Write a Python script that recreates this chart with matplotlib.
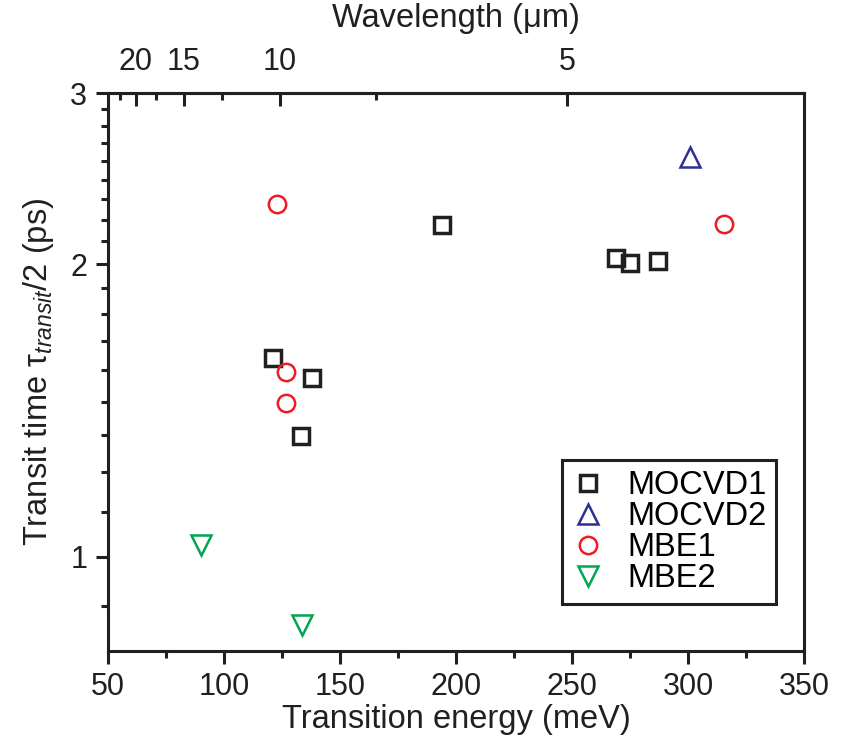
import numpy as np
import matplotlib.pyplot as plt
from matplotlib.ticker import FixedLocator, NullFormatter

plt.rcParams['font.family'] = ['Liberation Sans', 'DejaVu Sans']
plt.rcParams['mathtext.fontset'] = 'custom'
plt.rcParams['mathtext.rm'] = 'Liberation Sans'
plt.rcParams['mathtext.it'] = 'Liberation Sans:italic'

# data: transition energy (meV), transit time (ps)
mocvd1_e = [121.0, 138.1, 133.3, 194.1, 269.1, 275.0, 287.2]
mocvd1_t = [1.600, 1.526, 1.331, 2.195, 2.030, 2.007, 2.015]
mocvd2_e = [301.0]
mocvd2_t = [2.578]
mbe1_e = [122.8, 126.6, 126.6, 315.4]
mbe1_t = [2.307, 1.551, 1.439, 2.198]
mbe2_e = [90.1, 133.6]
mbe2_t = [1.028, 0.851]

x_ticks = [50, 100, 150, 200, 250, 300, 350]
y_ticks = [1, 2, 3]
wl_ticks = [20, 15, 10, 5]
wl_minor = [22.5, 17.5, 12.5, 7.5]

fs_tick = 22
fs_lab = 23.5
black = '#231f20'

fig = plt.figure(figsize=(8.46, 7.48), dpi=100)
ax = fig.add_axes([0.1277, 0.130, 0.8227, 0.7453])

ax.plot(mocvd1_e, mocvd1_t, 's', ms=11, mfc='none', mec=black, mew=2.5, label='MOCVD1')
ax.plot(mocvd2_e, mocvd2_t, '^', ms=14, mfc='none', mec='#2e3192', mew=1.8, label='MOCVD2')
ax.plot(mbe1_e, mbe1_t, 'o', ms=12.5, mfc='none', mec='#ed1c24', mew=1.8, label='MBE1')
ax.plot(mbe2_e, mbe2_t, 'v', ms=14, mfc='none', mec='#00a651', mew=1.8, label='MBE2')

ax.set_xlim(50, 350)
ax.set_yscale('log')
ax.set_ylim(0.8, 3)

ax.set_xticks(x_ticks)
ax.set_xticks([75, 125, 175, 225, 275, 325], minor=True)
ax.yaxis.set_major_locator(FixedLocator(y_ticks))
ax.yaxis.set_major_formatter(plt.FixedFormatter([str(v) for v in y_ticks]))
# eight linear minor ticks between the majors, as in the original
minor_y = [1 - 1 / 9] + [1 + k / 9 for k in range(1, 9)] + [2 + k / 9 for k in range(1, 9)]
ax.yaxis.set_minor_locator(FixedLocator(minor_y))
ax.yaxis.set_minor_formatter(NullFormatter())

for s in ax.spines.values():
    s.set_linewidth(2.2)
    s.set_color(black)
ax.tick_params(axis='both', which='major', direction='out', length=9, width=2.2,
               labelsize=fs_tick, colors=black, pad=6)
ax.tick_params(axis='both', which='minor', direction='out', length=5, width=2.2, colors=black)
ax.tick_params(top=False, right=False, which='both')

ax.set_xlabel('Transition energy (meV)', fontsize=fs_lab, color=black, labelpad=2)
ax.set_ylabel('Transit time τ$_{transit}$/2 (ps)', fontsize=fs_lab, color=black, labelpad=10)

conv = lambda v: 1239.84 / np.asarray(v, dtype=float)
top = ax.secondary_xaxis('top', functions=(conv, conv))
top.set_xticks(wl_ticks)
top.set_xticklabels([str(v) for v in wl_ticks])
top.xaxis.set_minor_locator(FixedLocator(wl_minor))
top.xaxis.set_minor_formatter(NullFormatter())
top.spines['top'].set_linewidth(2.2)
top.tick_params(which='major', direction='in', length=9, width=2.2, labelsize=fs_tick,
                colors=black, pad=12)
top.tick_params(which='minor', direction='in', length=5, width=2.2, colors=black)
top.set_xlabel('Wavelength (μm)', fontsize=fs_lab, color=black, labelpad=14)

leg = ax.legend(loc='lower right', bbox_to_anchor=(0.96, 0.084), fontsize=fs_lab,
                frameon=True, fancybox=False, edgecolor=black, handlelength=1.0,
                handletextpad=0.7, borderpad=0.3, labelspacing=0.0, borderaxespad=0,
                framealpha=1)
leg.get_frame().set_linewidth(2.2)

fig.savefig('out.png', dpi=100)
